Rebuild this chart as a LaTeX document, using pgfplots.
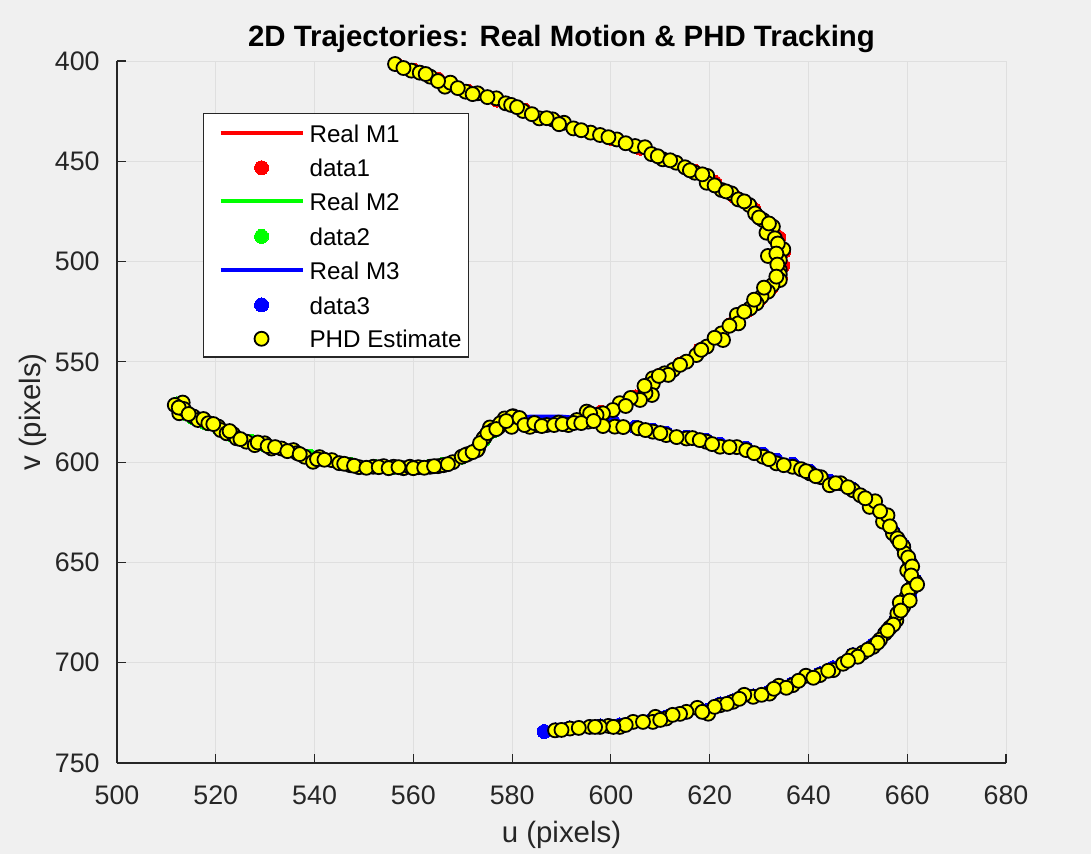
\documentclass[border=0pt]{standalone}
\usepackage{pgfplots}
\pgfplotsset{compat=1.18}
\usepackage{fontspec}
\setmainfont{Liberation Sans}
\definecolor{figbg}{RGB}{240,240,240}
\definecolor{axcol}{RGB}{38,38,38}
\definecolor{gridcol}{RGB}{223,223,223}
\definecolor{mred}{RGB}{255,0,0}
\definecolor{mgreen}{RGB}{0,255,0}
\definecolor{mblue}{RGB}{0,0,255}
\definecolor{myellow}{RGB}{255,255,0}

\pgfplotsset{
  linelegend/.style={legend image code/.code={\path (0pt,0pt); \draw[##1] (4pt,4.8pt) -- (45pt,4.8pt);}},
  dotlegend/.style={legend image code/.code={\path (0pt,0pt) (45pt,0pt); \draw[##1] plot coordinates {(24.5pt,4.6pt)};}},
}

\pgfplotstableread{
u v
556.5 401.5
560 404.5
565 409
571 415
577 419.5
582.5 424.5
588.5 429.5
594 434.5
600 438.5
606 443.5
612 449.5
617 455
621 460.5
625 467.5
629 474
632 481
634 488
635 495
634.8 502
634.3 508
632.5 513
630 519
627.5 524.5
624.5 531
621.5 537.5
618 544
614 551
610 556.5
607 562
605 567.5
602 571
598 575
}\realA

\pgfplotstableread{
u v
512 571
513.5 575.5
515.5 578
518 580.5
520.6 583
523.6 587
527 589.5
530 591.5
533 593
536 594.5
539 597
543.5 599
547.2 601
552 602
556 602.5
559.3 602.5
563.4 602
566 601
569.8 597.5
572.9 593.5
574.2 589
576.2 584.5
578 580.5
580.5 578
}\realB

\pgfplotstableread{
u v
580.5 577.5
585 577.3
590 577.3
595 578.3
600.5 580
605 582.5
608.5 584
611.2 585.5
615.3 587.5
619.3 589
622.1 591
627.4 593
630.8 596
633.5 599
636.8 601
640.3 604.5
644.3 609.5
649 613.5
652.4 620.5
655.1 628
657.1 634.5
659.2 641.5
660.6 650
661.6 659
660.5 666
659.2 672
657.8 678.5
655.5 685
653.1 691
649 696
645 702.5
642.3 705.5
636.8 710.5
632.1 714.5
628.8 716.5
624.7 719
622.1 720.5
619.7 723.5
615.3 724.5
611.2 727
608.5 728.5
604.5 729.5
601.8 731
597.8 731.5
595.7 732
591.7 732.5
588.7 733.5
586.5 734.3
}\realC

\pgfplotstableread{
u v
556.3 401.5
559.6 404.8
561.3 405.8
563.4 407.8
566.4 412.8
567.5 410.8
570.6 415.3
573.0 416.1
576.8 418.6
578.7 421.1
579.8 421.9
582.2 424.9
585.5 428.6
588.2 429.1
590.5 430.8
592.4 433.6
595.9 435.7
597.8 436.9
601.2 439.1
604.9 442.4
606.9 443.0
608.2 446.4
610.5 449.0
613.2 450.7
615.0 453.0
617.0 455.7
619.5 457.3
619.4 460.7
622.4 464.3
624.4 466.0
625.8 469.0
628.0 471.8
629.2 476.0
630.8 479.3
632.8 482.6
631.5 485.6
633.2 488.4
634.9 493.9
634.2 499.2
631.8 497.2
634.2 504.2
634.2 506.5
634.2 509.2
632.7 511.7
631.8 515.0
630.5 517.5
629.5 520.8
628.2 523.3
625.5 526.6
625.8 530.8
622.4 535.8
622.7 539.1
619.4 542.4
617.3 546.6
615.3 549.9
612.6 554.0
610.9 555.7
608.5 558.2
611.6 556.5
608.5 560.7
608.3 566.5
607.0 565.6
605.9 569.0
601.8 570.6
600.4 574.0
598.4 575.7
597.1 576.5
595.1 574.8
593.1 579.0
595.4 579.8
591.4 581.5
589.4 580.3
587.0 581.5
585.0 581.5
583.6 582.4
580.2 577.1
579.9 582.4
578.5 578.2
577.2 582.7
575.5 582.7
574.5 587.4
573.1 593.2
595.8 575.7
600.8 582.3
598.4 582.0
605.5 583.1
608.5 584.8
611.2 586.5
615.3 588.2
616.5 588.0
619.3 589.8
622.1 592.3
625.5 592.5
627.4 594.0
630.8 597.3
633.5 600.6
636.8 602.3
638.5 603.5
640.3 605.6
642.5 607.5
644.3 611.5
646.5 610.5
649.0 614.0
650.5 616.5
652.4 622.3
653.5 619.5
655.1 629.7
656.0 626.5
657.1 635.5
658.0 638.0
659.2 642.2
659.5 645.5
660.6 650.5
660.0 654.0
661.6 659.6
661.0 662.5
659.9 667.1
660.2 664.0
659.2 672.1
658.5 670.0
657.8 678.8
658.0 675.5
655.5 685.4
656.5 682.5
653.1 692.1
654.5 688.5
649.0 696.3
651.0 695.0
645.0 703.7
647.0 700.5
642.3 706.2
639.5 706.5
636.8 711.2
634.0 711.5
632.1 715.4
628.8 717.0
627.0 716.0
624.7 719.5
622.1 721.2
619.7 725.4
617.5 722.5
615.3 724.5
611.2 727.8
609.0 727.0
608.5 729.5
604.5 729.5
601.8 732.0
599.5 731.5
597.8 732.0
595.7 732.0
591.7 732.8
588.7 733.7
513.3 570.3
511.7 571.5
512.6 575.6
513.5 573.5
515.5 577.3
516.4 579.0
517.5 578.5
518.5 580.6
520.5 582.3
521.0 584.0
522.2 585.6
523.5 586.0
524.2 588.1
526.2 589.8
527.9 591.5
529.9 590.6
531.3 593.2
533.3 593.2
535.7 594.0
536.5 595.5
538.0 597.3
539.7 599.8
541.0 597.5
543.5 599.0
545.0 600.5
547.2 601.5
549.0 602.5
551.9 602.3
554.0 602.0
556.0 602.3
558.0 603.0
559.3 602.3
561.0 602.5
563.4 602.3
565.0 602.0
566.1 601.5
568.0 600.0
569.8 597.3
571.0 596.0
572.9 594.0
574.2 588.1
576.2 584.0
577.6 580.6
580.0 577.3
512.5 572.8
514.5 576.0
519.5 581.0
522.8 584.5
525.0 588.5
528.5 590.2
530.5 592.0
532.0 592.5
534.5 594.5
537.0 596.0
540.5 598.5
542.0 598.8
546.0 600.8
548.0 601.8
550.5 602.8
553.0 602.5
555.0 603.0
557.0 602.5
560.0 603.0
562.2 602.8
564.2 602.0
567.0 601.0
570.5 596.5
572.0 595.0
573.5 590.5
575.0 585.5
576.8 583.5
578.8 579.5
581.5 578.0
582.5 581.5
584.5 580.5
586.0 582.0
588.5 581.5
590.2 581.0
592.5 580.5
594.0 580.5
596.5 579.5
558.0 403.5
562.5 406.5
565.0 410.0
569.0 413.5
572.0 416.5
575.0 418.0
581.0 423.0
584.0 426.5
587.0 428.5
589.5 431.5
594.0 434.5
599.5 438.0
603.0 441.0
609.5 447.5
612.0 449.5
616.0 454.5
618.5 456.5
621.0 462.0
623.3 465.0
627.0 470.0
630.0 478.0
632.0 481.0
633.8 491.0
633.5 496.0
633.7 501.5
633.5 507.5
631.0 513.0
629.0 519.0
627.0 525.0
624.0 532.0
621.0 538.0
618.3 544.0
614.0 551.5
609.7 557.0
606.8 562.0
604.0 568.0
603.0 572.0
602.5 582.5
607.0 584.0
610.0 585.5
613.3 587.5
618.0 589.0
620.5 591.0
624.0 592.5
629.0 595.5
632.0 598.5
635.0 601.5
639.5 604.5
641.5 607.0
645.5 610.5
648.0 612.5
651.5 618.0
654.5 624.5
656.5 632.0
658.5 640.0
660.2 647.5
661.0 652.0
660.8 656.5
662.0 661.0
660.5 669.0
658.7 674.0
657.2 681.0
656.0 684.0
654.0 690.0
652.0 693.5
650.0 697.0
648.0 699.0
644.0 704.0
641.0 707.5
638.0 709.0
635.5 712.5
633.0 713.0
630.5 716.0
626.0 718.0
623.5 720.5
621.0 722.0
618.5 724.5
614.0 725.5
612.5 726.0
610.0 728.5
606.5 729.5
603.0 731.0
600.5 732.0
596.8 732.0
593.5 732.5
590.0 733.5
}\phd

\begin{document}
\begin{tikzpicture}[x=1pt,y=1pt]
\fill[figbg] (0,0) rectangle (545.5,427);
\begin{axis}[
  at={(58.5pt,45.5pt)}, anchor=south west,
  scale only axis, width=444.5pt, height=351pt,
  xmin=500, xmax=680, ymin=400, ymax=750, y dir=reverse,
  xtick={500,520,...,680}, ytick={400,450,...,750},
  axis x line*=bottom, axis y line*=left,
  x axis line style={-, draw=axcol, line width=0.6pt},
  y axis line style={-, draw=axcol, line width=0.6pt},
  tick align=inside, major tick length=4.5pt,
  tick style={draw=axcol, line width=0.6pt},
  grid=major, major grid style={draw=gridcol, line width=0.5pt},
  /pgf/number format/assume math mode=true,
  ticklabel style={font=\fontsize{13.4}{16}\selectfont, text=axcol},
  xticklabel style={inner sep=0pt, anchor=north, yshift=-11pt},
  yticklabel style={inner sep=0pt, anchor=east, xshift=-8.5pt},
  xlabel={u (pixels)}, ylabel={v (pixels)},
  label style={font=\fontsize{14.7}{17}\selectfont, text=axcol},
  xlabel style={at={(axis description cs:0.5,-0.1026)}, anchor=center},
  ylabel style={at={(axis description cs:-0.095,0.5)}, anchor=center},
  title={2D Trajectories: Real Motion \& PHD Tracking},
  every axis title shift=0pt,
  title style={font=\bfseries\fontsize{14.7}{17}\selectfont, text=black, at={(axis description cs:0.5,1.032)}, anchor=center},
  clip=false,
  legend style={at={(axis description cs:0.0967,0.926)}, anchor=north west,
    draw=axcol, line width=0.6pt, fill=white, text=black,
    font=\fontsize{12.1}{14}\selectfont,
    inner xsep=3.5pt, inner ysep=4pt, row sep=6.1pt, column sep=2.5pt,
    cells={anchor=base west},
    nodes={inner sep=0pt, text height=10.3pt, text depth=0.5pt}},
]
\addplot[mred, line width=2pt, linelegend] table[x=u,y=v] {\realA};
\addlegendentry{Real M1}
\addplot[only marks, mark=*, mark size=3.5pt, mark options={fill=mred, draw=mred, line width=0pt}, dotlegend] table[x=u,y=v] {\realA};
\addlegendentry{data1}
\addplot[mgreen, line width=2pt, linelegend] table[x=u,y=v] {\realB};
\addlegendentry{Real M2}
\addplot[only marks, mark=*, mark size=3.5pt, mark options={fill=mgreen, draw=mgreen, line width=0pt}, dotlegend] table[x=u,y=v] {\realB};
\addlegendentry{data2}
\addplot[mblue, line width=2pt, linelegend] table[x=u,y=v] {\realC};
\addlegendentry{Real M3}
\addplot[only marks, mark=*, mark size=3.5pt, mark options={fill=mblue, draw=mblue, line width=0pt}, dotlegend] table[x=u,y=v, skip coords between index={1}{3}] {\realC};
\addlegendentry{data3}
\addplot[only marks, mark=*, mark size=3.5pt, mark options={fill=myellow, draw=black, line width=0.9pt}, dotlegend] table[x=u,y=v] {\phd};
\addlegendentry{PHD Estimate}
\end{axis}
\end{tikzpicture}
\end{document}
